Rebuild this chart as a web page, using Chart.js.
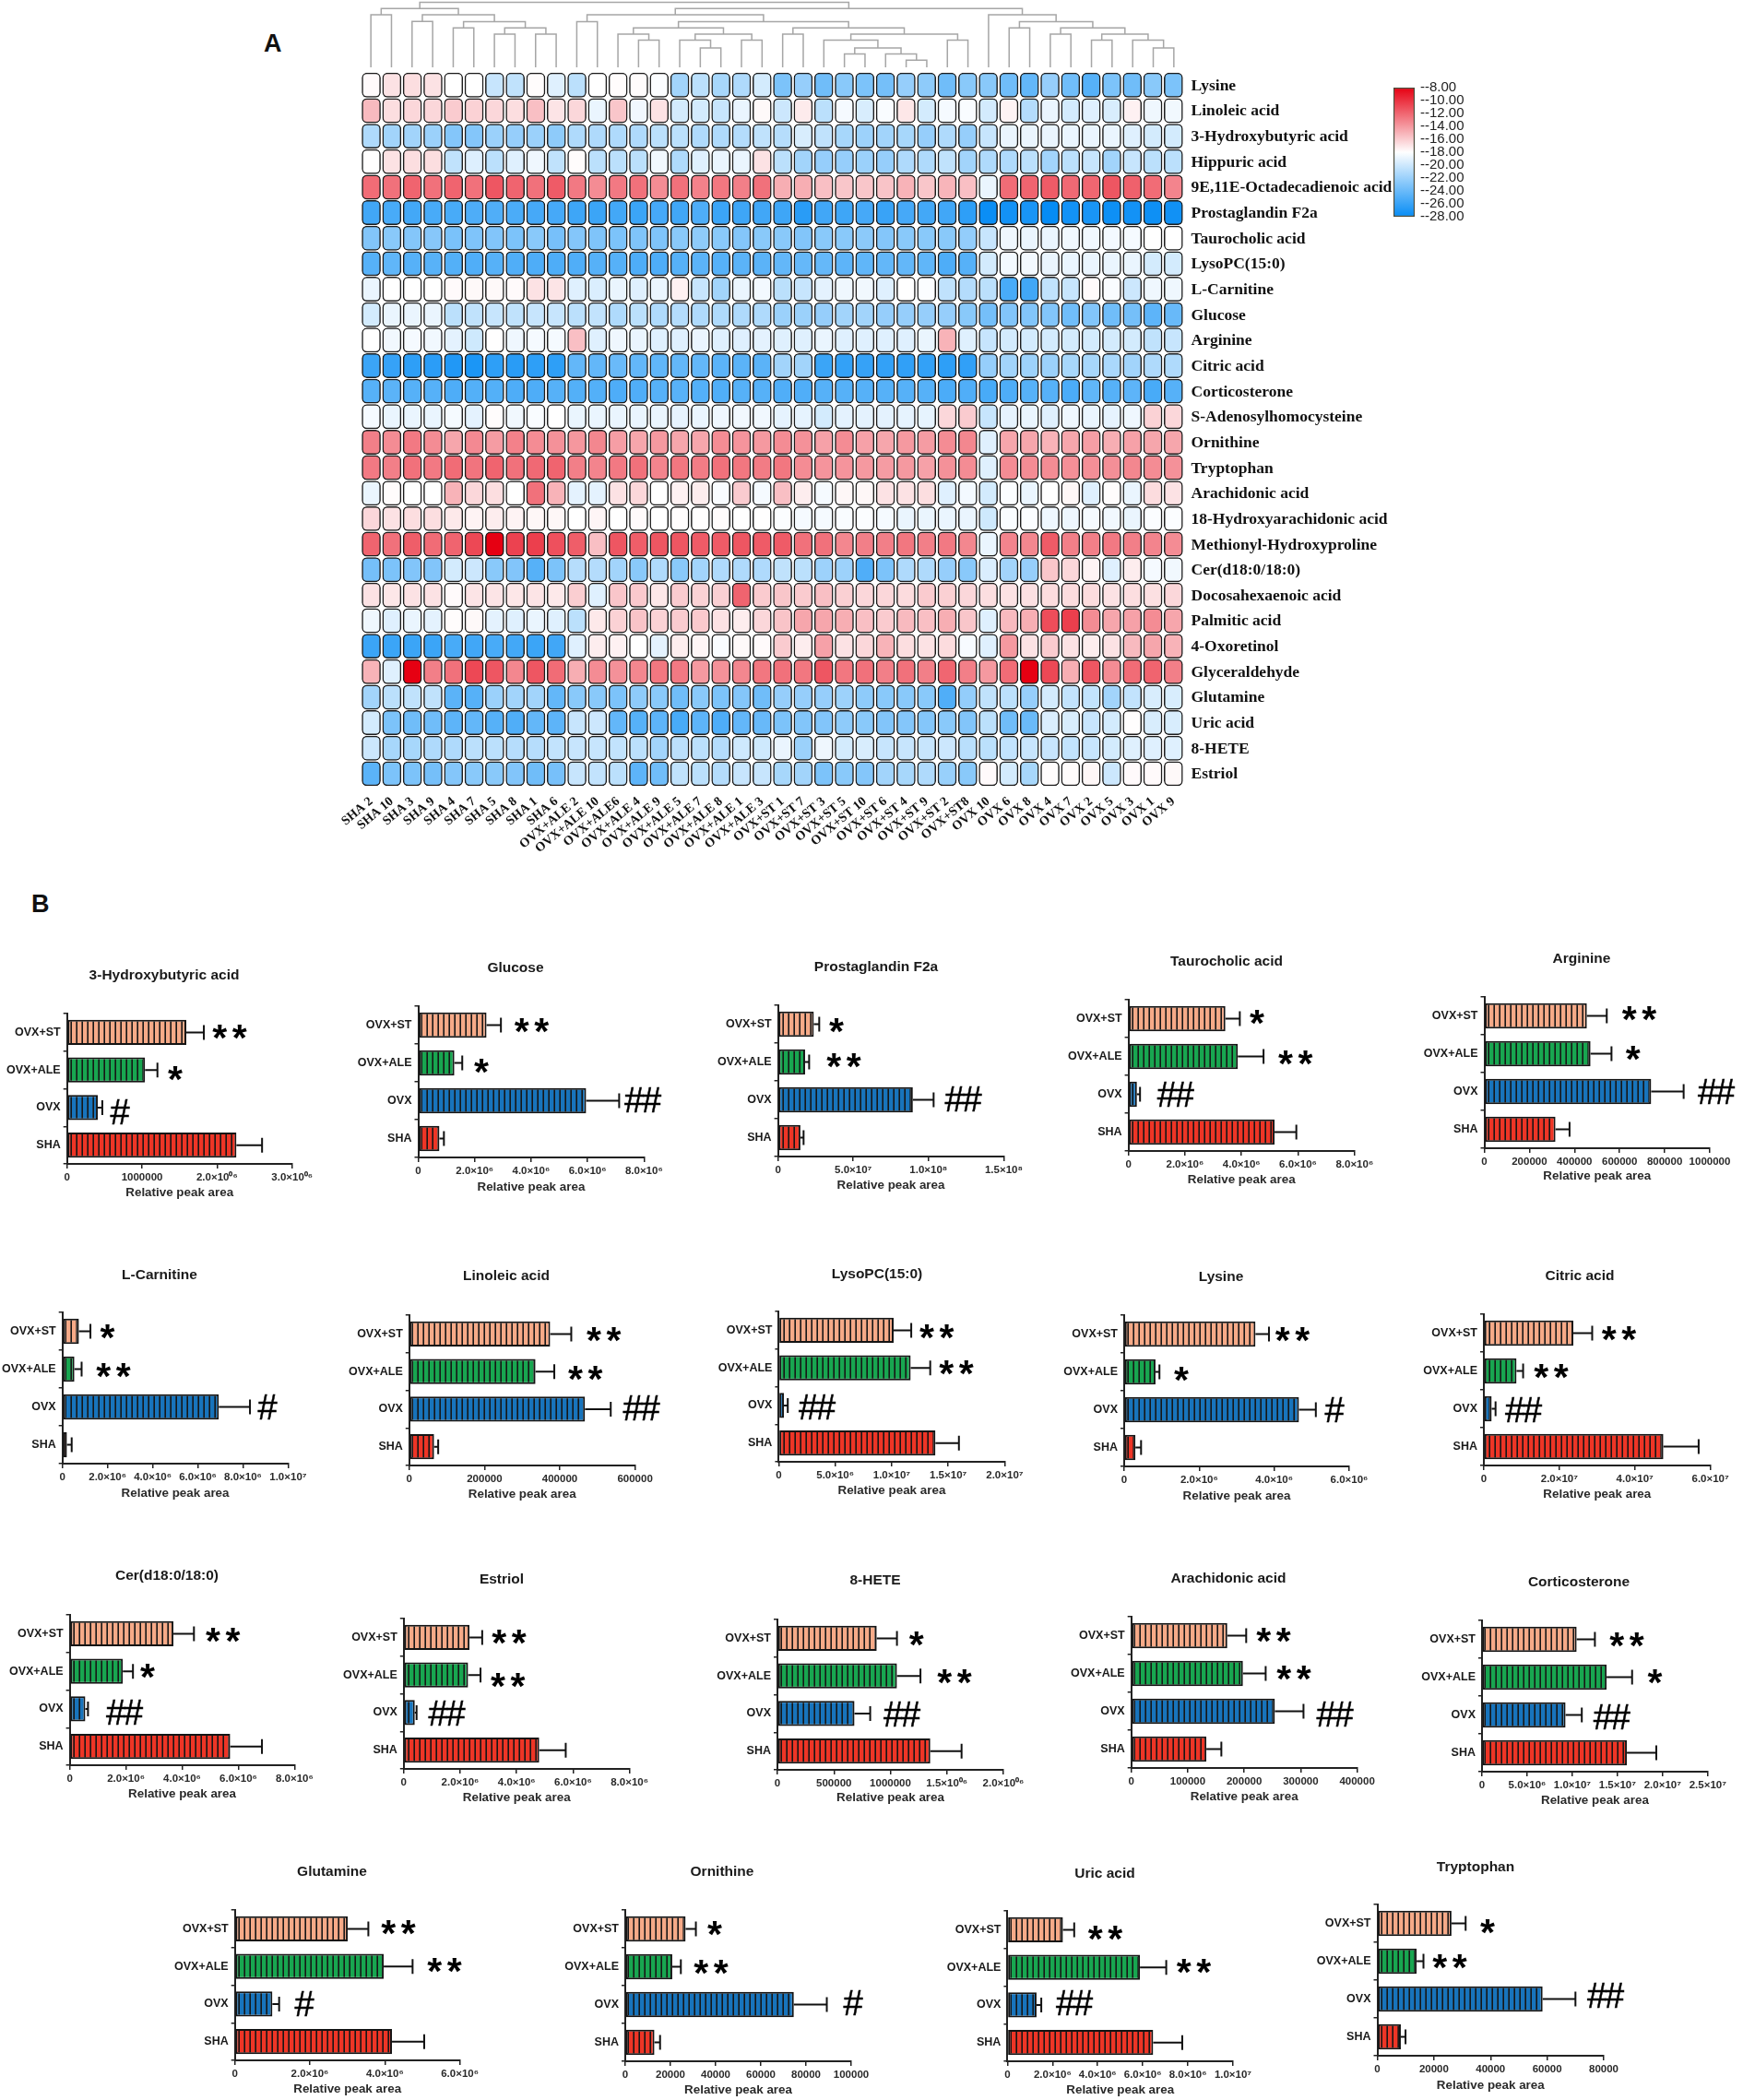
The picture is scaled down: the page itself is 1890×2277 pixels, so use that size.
<!DOCTYPE html>
<html>
<head>
<meta charset="utf-8">
<script src="https://cdn.jsdelivr.net/npm/chart.js@4"></script>
<style>
  html, body { margin: 0; background: #fff; }
  #page { position: relative; width: 1890px; height: 2277px; overflow: hidden; background: #fff; }
  #page canvas { position: absolute; }
  .tag { position: absolute; font: bold 27px "Liberation Sans"; color: #111; }
</style>
</head>
<body>
<div id="page">
  <div class="tag" style="left:286px;top:32px">A</div>
  <div class="tag" style="left:34px;top:965px">B</div>
</div>
<script>
// ---------- heatmap data ----------
const samples = ["SHA 2","SHA 10","SHA 3","SHA 9","SHA 4","SHA 7","SHA 5","SHA 8","SHA 1","SHA 6",
  "OVX+ALE 2","OVX+ALE 10","OVX+ALE6","OVX+ALE 4","OVX+ALE 9","OVX+ALE 5","OVX+ALE 7","OVX+ALE 8","OVX+ALE 1","OVX+ALE 3",
  "OVX+ST 1","OVX+ST 7","OVX+ST 3","OVX+ST 5","OVX+ST 10","OVX+ST 6","OVX+ST 4","OVX+ST 9","OVX+ST 2","OVX+ST8",
  "OVX 10","OVX 6","OVX 8","OVX 4","OVX 7","OVX 2","OVX 5","OVX 3","OVX 1","OVX 9"];
const metabolites = ["Lysine","Linoleic acid","3-Hydroxybutyric acid","Hippuric acid","9E,11E-Octadecadienoic acid",
  "Prostaglandin F2a","Taurocholic acid","LysoPC(15:0)","L-Carnitine","Glucose","Arginine","Citric acid","Corticosterone",
  "S-Adenosylhomocysteine","Ornithine","Tryptophan","Arachidonic acid","18-Hydroxyarachidonic acid","Methionyl-Hydroxyproline",
  "Cer(d18:0/18:0)","Docosahexaenoic acid","Palmitic acid","4-Oxoretinol","Glyceraldehyde","Glutamine","Uric acid","8-HETE","Estriol"];
const heatRows = [
 [-17.7,-16.5,-16.3,-16.5,-18,-18,-20.5,-20.8,-17.8,-19.5,-21,-18,-17.8,-17.8,-18.2,-22,-21,-21.8,-21.5,-20,-23.5,-22.5,-24,-23,-23.5,-23.8,-22.5,-22.8,-24,-23,-23,-24,-24.5,-22.5,-24,-25,-23.5,-24,-23,-23.5],
 [-14.8,-16.3,-16,-16,-15.5,-15.8,-16,-16.3,-15,-16.6,-16,-19,-15.3,-18.7,-16.5,-20,-20,-20.5,-19,-17.6,-20.3,-16.9,-21,-18.5,-19.8,-18.3,-16.7,-20,-18.5,-18.3,-20,-17.3,-21.3,-19,-20,-19.5,-19.8,-17.2,-18.8,-18.7],
 [-21.5,-22,-22,-22.3,-23.2,-23.2,-22.3,-22.5,-22.3,-22.8,-21.5,-21.5,-21.5,-21.5,-21,-21,-21.5,-21.5,-21.3,-20.8,-21.2,-19.8,-20.8,-21.8,-22.2,-22,-21.8,-22.5,-21.5,-22.5,-20.5,-19,-19,-19,-19,-19,-19,-19.5,-20,-20],
 [-17.9,-16.5,-16.3,-16.3,-20.8,-19.6,-21,-19.5,-18.8,-20.8,-17.8,-21,-21,-21,-18.7,-21.5,-19.5,-19,-19,-16.5,-21,-22,-22.5,-22.5,-22.3,-22.5,-21.5,-21.5,-20.8,-22,-21.5,-21.5,-21,-22,-21,-20.5,-22,-20.5,-21,-21],
 [-11.8,-12,-11.5,-12,-11.5,-12,-11,-11.5,-12,-11.2,-12.3,-13,-12.3,-12,-13,-12,-12.6,-12.2,-12.5,-12,-14.3,-14.3,-15,-15.3,-15.3,-15.2,-14.5,-15.3,-14.6,-15,-19,-11.8,-11.5,-11.2,-11.7,-11.6,-11,-11.4,-11.8,-12.7],
 [-25.8,-25.5,-25.7,-25.5,-25.5,-25.3,-25.2,-25.4,-25.6,-25.6,-25.9,-26,-25.7,-26,-25.6,-25.8,-25.3,-26,-25.9,-25.8,-25.9,-26.7,-25.8,-25.9,-25.6,-26.1,-25.6,-25.7,-25.8,-26.5,-27.8,-27.5,-27.3,-28,-27.5,-27.3,-27.7,-27.5,-27.7,-27.6],
 [-23.3,-23,-23.2,-23.1,-23.6,-23.4,-23.3,-23.5,-23,-23.7,-23.2,-23.4,-23.5,-23.4,-23.4,-23,-22.8,-23,-23.2,-23,-23,-23.3,-23,-23,-22.9,-23.2,-23,-23,-23,-22.6,-20.5,-18.8,-19,-19,-18.7,-18.7,-18.6,-18.5,-18,-18],
 [-25,-24.6,-25,-24.9,-25.1,-25.2,-25,-25.2,-25.3,-25.3,-25.2,-25,-25,-25.3,-25.3,-25,-24.8,-25,-24.8,-24.8,-24.5,-24.4,-24.4,-24.7,-24.6,-24.5,-24.5,-24.6,-25.3,-25,-20,-18.6,-18.6,-19,-19,-19,-19,-19,-20,-20],
 [-19,-18,-18,-18,-17.7,-17.6,-17.6,-17.7,-16.5,-16.6,-19.5,-19.7,-19,-19.5,-19,-17.2,-20.5,-22,-19,-18.6,-21,-20.5,-19.3,-18.8,-18.7,-19.5,-18,-18.2,-20.8,-21.3,-21,-25.5,-25.8,-20.8,-20.5,-17.7,-18.3,-20.3,-18.8,-18.8],
 [-20,-19,-19,-19,-21,-20.8,-20.5,-20.8,-20.5,-20.5,-21,-20.7,-21.5,-21,-21.5,-21.3,-21.5,-21.5,-21.5,-21.5,-22.3,-22.3,-22.5,-22,-22,-22.5,-22.5,-22.5,-22.5,-23,-23.8,-23.3,-23.3,-23.3,-24,-23.3,-24,-23.8,-24.7,-24.3],
 [-18,-18.7,-18.5,-18.7,-19.3,-20.2,-17.9,-18.8,-18.5,-18.5,-15,-19.5,-18.8,-19,-19.5,-19.5,-19,-19.5,-19.5,-19.3,-19.5,-19.5,-19,-19.5,-19.5,-19.5,-19.5,-19,-14.5,-19.5,-20.5,-20,-20,-20,-20,-20,-20,-20,-20.8,-20.5],
 [-26,-26.2,-26.5,-26.6,-27,-27.2,-26.5,-26.7,-26.5,-26.5,-24.5,-24.5,-24.2,-24.5,-24.6,-24.5,-24.5,-24.8,-24.8,-24.8,-22,-22,-26,-26.3,-26.2,-26.3,-26.4,-26.3,-26.5,-26.4,-22.5,-22,-22.2,-22.3,-21.8,-21.8,-21.7,-22,-21.5,-21.5],
 [-25,-24.8,-25,-25,-25.3,-25.1,-25.1,-25.3,-25.3,-25,-25.1,-25.1,-25.3,-25.2,-25,-24.9,-25.1,-25.2,-25,-25,-25.2,-25.2,-25,-25,-25,-25,-25,-25,-25.4,-25.2,-25.5,-25.3,-25,-25,-25.4,-24.6,-25,-24.7,-25.5,-25],
 [-18.5,-19,-19,-19,-18.5,-19.3,-17.8,-18.7,-18.3,-18,-19,-19,-19,-19,-19,-19.2,-19,-18.8,-18.7,-18.7,-19.2,-19.2,-20,-19.3,-19.3,-19.3,-19.2,-19.2,-16,-15.5,-20.5,-19.2,-19,-19.5,-18.8,-19,-19.2,-18.8,-15.8,-16],
 [-12.5,-13,-12.3,-13,-14,-12.9,-13.6,-12.6,-13,-13.2,-13.4,-12.8,-13.7,-14,-13.5,-14,-14,-13,-13.3,-13.5,-13,-13.2,-13.8,-13,-13.8,-14,-13.5,-13.6,-13,-12.8,-19.5,-14,-14,-14.5,-14,-13.7,-14.3,-13.8,-14,-14],
 [-12.3,-12.5,-12,-12.3,-11.8,-12.1,-11.5,-12,-11.7,-11.5,-12.5,-12.7,-12.3,-12,-12.7,-12.2,-12.4,-12,-12.2,-12.4,-12.2,-13,-13.3,-13.3,-13.5,-13.6,-13.5,-13.8,-13.2,-13,-19.5,-13,-13,-13,-13.1,-13.1,-13.1,-12.8,-13,-13.2],
 [-19,-17.8,-18,-18,-14.5,-16,-16.3,-18,-12,-14.5,-19.3,-19.3,-16.5,-16,-18,-17.2,-17,-18.3,-15.5,-18.5,-15,-17,-18.5,-17.5,-17.5,-16.5,-16.5,-16.3,-19.5,-18.6,-20,-18.2,-19,-18,-17.5,-19.5,-17.8,-19,-16.2,-16.5],
 [-16,-16.5,-16.3,-16.3,-16.8,-17.3,-17,-17.3,-17.5,-17.5,-18,-17.4,-18,-17.7,-18,-17.8,-17.9,-17.8,-18,-17.9,-18.2,-18.5,-18.5,-18.3,-18.2,-18.5,-19,-19,-19,-19,-20.2,-18.3,-18.2,-18.8,-18.9,-18.5,-18.7,-19,-18.2,-18.2],
 [-11.5,-12,-11.3,-11.8,-11.5,-10.5,-8,-10.3,-10.2,-10.8,-11.3,-15,-11,-11.3,-11,-11,-11.2,-11.2,-11,-11.2,-11.2,-12,-12,-12.8,-12.5,-12.5,-12.2,-12.5,-12.3,-12.8,-19,-12.7,-12.8,-11.2,-12.5,-12.5,-12.3,-12.5,-12.7,-13],
 [-23.8,-23.5,-23.3,-23.3,-20,-20.3,-23,-23.3,-25,-23.5,-21.2,-21.3,-22,-23,-21.5,-23,-22,-21.5,-21.5,-21.5,-20.8,-21,-22.2,-22.2,-25.2,-23.5,-21.5,-21.5,-22.5,-23,-19.7,-22,-22.5,-15.3,-16,-17.3,-19.5,-17,-18.5,-18.7],
 [-16.5,-16.7,-16.5,-16.5,-17.7,-16.6,-16.6,-16.7,-16.6,-16.8,-15.6,-19.5,-15.3,-15.4,-16.7,-15.5,-15.8,-15.7,-11.5,-15.5,-15.3,-15.5,-15,-15.7,-16,-16,-16.2,-15.5,-15.7,-16,-16.3,-16.5,-16.4,-16.2,-16.2,-16.2,-16.5,-16.3,-16.4,-16],
 [-18.8,-19.5,-19,-19.3,-17.8,-17.6,-19.3,-19.5,-19,-19.5,-21,-16.8,-15.8,-15.2,-15.8,-15.5,-15.4,-16.5,-17,-16,-15.2,-14,-14,-14.3,-15,-15.5,-14.8,-15,-14.3,-15.3,-19.5,-14.8,-14.3,-10.7,-10.2,-13,-14,-13.8,-13,-14],
 [-26,-26,-26,-26,-25.5,-25.8,-25.5,-25.7,-26,-25.8,-19.5,-17,-17.2,-18,-19.3,-17,-17.4,-18.3,-17.6,-17.7,-15.5,-17,-13.8,-16.5,-16,-14.5,-16.3,-16.5,-16.2,-18.4,-19.5,-13.5,-16.5,-15.5,-16.5,-17,-16.5,-14.8,-14,-14.5],
 [-14.5,-19.5,-8,-12.5,-12,-10.5,-11,-12.8,-11,-11.8,-14.3,-13,-13.2,-12.8,-12.2,-12.3,-13.5,-13.2,-12.8,-12.2,-12,-12.2,-11,-12.2,-12,-12.5,-12,-12.5,-11.6,-12.5,-13.5,-11.8,-8,-10.5,-14.3,-11,-13,-11.8,-11.5,-12.5],
 [-22,-21,-20.8,-20.8,-24.8,-25,-22.3,-22,-22,-24.5,-23,-23,-23.5,-22.8,-23,-24,-23,-23.5,-23.2,-24,-22.5,-22.5,-22.5,-22.2,-22.8,-23,-23,-23,-25.2,-22.6,-20.8,-21,-22.5,-20,-20.7,-20.7,-22,-20.7,-19.8,-19.8],
 [-20,-23.5,-24,-24,-24.7,-24.5,-25,-25.2,-24.5,-24.7,-20.5,-20.3,-24.5,-25,-24.7,-25.5,-24.7,-25.3,-24.5,-24.3,-23.5,-23.3,-23.3,-22.8,-23,-23.3,-23.2,-23.2,-23,-23.3,-21,-24,-24.2,-19.7,-19.8,-20.5,-20,-17.9,-19.8,-19.8],
 [-20.3,-21.8,-21.8,-21.5,-21.5,-21,-21,-21.2,-21.2,-20.7,-20.5,-20.5,-20.7,-21,-22,-21,-21,-21.3,-20.2,-20.2,-19,-22.3,-18.8,-20,-19.8,-20.5,-20.5,-20.5,-20.3,-21.1,-21,-20.7,-20.5,-20.5,-20.7,-20.5,-20,-19.5,-19.5,-19.5],
 [-24.8,-23.5,-23.5,-23.8,-23.2,-23,-23,-23.3,-24,-23.7,-20.5,-20.7,-21,-24.7,-24,-20.8,-21,-21.3,-20.5,-20.5,-21.8,-22,-23.5,-23,-23.2,-22,-21.8,-21.5,-22.4,-23,-17.7,-20,-21.8,-17.8,-17.8,-17.5,-20.3,-17.7,-17.7,-17.6]
];
const legendTicks = [-8,-10,-12,-14,-16,-18,-20,-22,-24,-26,-28];

// dendrogram merges: [child, child, height]; 0-39 are samples, 100+k is merge k
const dendroMerges = [
 [0,1,57],[2,3,49.7],[4,5,42.7],[6,7,36],[8,9,36],[103,104,42.7],[102,105,49.4],[101,106,57],[100,107,63.7],
 [10,11,49.4],[13,14,29.4],[12,110,36],[16,17,21],[15,112,29.4],[18,19,29.4],[113,114,36],[111,115,42.7],
 [20,21,36],[23,24,14.4],[26,27,7.7],[25,119,14.4],[118,120,21],[22,121,29.4],[28,29,29.4],[122,123,36],
 [117,124,42.7],[116,125,49.4],[109,126,57],
 [31,32,42.7],[33,34,36],[35,36,29.4],[38,39,21],[37,131,29.4],[130,132,36],[129,133,42.7],[128,134,49.4],[30,135,57],
 [127,136,63.7],[108,137,70.4]
];

// ---------- bar panel data ----------
const groups = ["OVX+ST","OVX+ALE","OVX","SHA"];
const panelTitles = ["3-Hydroxybutyric acid","Glucose","Prostaglandin F2a","Taurocholic acid","Arginine",
  "L-Carnitine","Linoleic acid","LysoPC(15:0)","Lysine","Citric acid",
  "Cer(d18:0/18:0)","Estriol","8-HETE","Arachidonic acid","Corticosterone",
  "Glutamine","Ornithine","Uric acid","Tryptophan"];
const panelMax = [3e6,8e6,1.5e8,8e6,1e6, 1e7,6e5,2e7,6e6,6e7, 8e6,8e6,2e6,4e5,2.5e7, 6e6,1e5,1e7,8e4];
const e6x4 = ["0","2.0×10⁶","4.0×10⁶","6.0×10⁶","8.0×10⁶"];
const panelTicks = [
  ["0","1000000","2.0×10⁰⁶","3.0×10⁰⁶"], e6x4, ["0","5.0×10⁷","1.0×10⁸","1.5×10⁸"], e6x4,
  ["0","200000","400000","600000","800000","1000000"],
  ["0","2.0×10⁶","4.0×10⁶","6.0×10⁶","8.0×10⁶","1.0×10⁷"], ["0","200000","400000","600000"],
  ["0","5.0×10⁶","1.0×10⁷","1.5×10⁷","2.0×10⁷"], ["0","2.0×10⁶","4.0×10⁶","6.0×10⁶"], ["0","2.0×10⁷","4.0×10⁷","6.0×10⁷"],
  e6x4, e6x4, ["0","500000","1000000","1.5×10⁰⁶","2.0×10⁰⁶"], ["0","100000","200000","300000","400000"],
  ["0","5.0×10⁶","1.0×10⁷","1.5×10⁷","2.0×10⁷","2.5×10⁷"],
  ["0","2.0×10⁶","4.0×10⁶","6.0×10⁶"], ["0","20000","40000","60000","80000","100000"],
  ["0","2.0×10⁶","4.0×10⁶","6.0×10⁶","8.0×10⁶","1.0×10⁷"], ["0","20000","40000","60000","80000"]
];
const panelMeans = [
  [1.59e6,1.04e6,.41e6,2.258e6],[2.42e6,1.28e6,5.95e6,.75e6],[2.38e7,1.8e7,8.96e7,1.49e7],[3.43e6,3.87e6,.3e6,5.17e6],[454800,471000,740000,315500],
  [.73e6,.53e6,6.93e6,.2e6],[374400,335400,467000,65900],[1.017e7,1.168e7,.046e7,1.387e7],[3.5e6,.835e6,4.66e6,.3e6],[2.37e7,.865e7,.207e7,4.755e7],
  [3.69e6,1.89e6,.555e6,5.71e6],[2.33e6,2.28e6,.39e6,4.8e6],[879000,1058000,682000,1353000],[170000,197700,254300,133000],[1.048e7,1.38e7,.925e7,1.604e7],
  [3.01e6,3.97e6,1e6,4.19e6],[26700,20800,74600,12900],[2.46e6,5.875e6,1.29e6,6.46e6],[26200,13900,58400,8300]
];
const panelTips = [
  [1.824e6,1.205e6,.47e6,2.6e6],[2.93e6,1.56e6,7.12e6,.91e6],[2.74e7,2.07e7,1.034e8,1.7e7],[3.94e6,4.78e6,.41e6,5.94e6],[543000,564000,884000,378000],
  [1.24e6,.85e6,8.31e6,.41e6],[430500,385400,535400,76800],[1.173e7,1.341e7,.08e7,1.595e7],[3.86e6,.94e6,5.11e6,.45e6],[2.87e7,1.04e7,.31e7,5.69e7],
  [4.42e6,2.25e6,.65e6,6.84e6],[2.78e6,2.72e6,.455e6,5.74e6],[1058000,1266000,821000,1630000],[203500,238000,305000,159500],[1.25e7,1.662e7,1.105e7,1.93e7],
  [3.56e6,4.74e6,1.18e6,5.05e6],[31250,24600,89200,15400],[2.96e6,7.04e6,1.5e6,7.75e6],[31200,16300,70000,9960]
];
const panelMarks = [
  ["**","*","#"],["**","*","##"],["*","**","##"],["*","**","##"],["**","*","##"],
  ["*","**","#"],["**","**","##"],["**","**","##"],["**","*","#"],["**","**","##"],
  ["**","*","##"],["**","**","##"],["*","**","##"],["**","**","##"],["**","*","##"],
  ["**","**","#"],["*","**","#"],["**","**","##"],["*","**","##"]
];

// ---------- layout (page pixels) ----------
// axis x0, axis x1, axis top, axis bottom, title x, title y, x label y
const panelBoxes = [
  [72.7,316.7,1099,1262,178,1057,1293],[453.5,698.3,1091,1255,559,1049,1287],[843.6,1088.4,1090,1254,949.6,1048,1285],[1223.6,1468.8,1084,1248,1329.7,1042,1279],[1609.5,1854,1081,1245,1715,1039,1275],
  [67.7,312.4,1423,1587,173,1382,1619],[443.8,688.6,1426,1589,549,1383,1620],[844.4,1089.4,1422,1585,950.6,1381,1616],[1219,1463,1426,1590,1324.4,1384,1622],[1609,1854.6,1425,1589,1713,1383,1620],
  [75.6,319.4,1751,1914,181,1708,1945],[437.8,682.6,1755,1918,543.8,1712,1949],[843,1088,1756,1919,948.5,1713,1949],[1226.7,1471.6,1753,1917,1332,1711,1948],[1607,1851.8,1757,1921,1712,1715,1952],
  [254.7,498.6,2071,2234,359.8,2029,2265],[678,923,2071,2235,783,2029,2266],[1092.4,1337,2072,2235,1197.6,2031,2266],[1493.5,1739,2065,2229,1599.6,2024,2261]
];
// centre of each symbol group: ST x,y, ALE x,y, OVX x,y
const markSpots = [
  [249,1119,190,1164,130,1205],[576.4,1112,522,1156,697,1192],[907,1112,915,1150,1044.6,1191],[1363,1103,1404.7,1147,1274.7,1186],[1777.5,1099,1770.7,1142,1861,1183],
  [116.4,1444,123,1486,290,1525],[654.7,1447,634.8,1489,695.5,1526],[1015.7,1444,1037,1483,886,1525],[1401.6,1447,1281,1490,1447,1528],[1755.5,1446,1682,1487,1652,1528],
  [241.8,1773,160,1812,135,1856],[552,1775,550.7,1822,484.6,1857],[993.8,1777,1035,1818,978,1858],[1381,1773,1403,1814,1447.6,1858],[1764,1778,1794.4,1818,1747.7,1861],
  [432,2090,482,2131,330,2172],[775,2091,771,2133,925,2171],[1198.6,2096,1294.5,2132,1165,2171],[1613,2089,1572,2127,1741,2163]
];
const barColors = ["#f6aa88","#18a650","#1874bc","#ee3526"];

Chart.defaults.animation = false;
Chart.defaults.responsive = false;
Chart.defaults.devicePixelRatio = 1;
Chart.defaults.plugins.legend.display = false;
Chart.defaults.plugins.tooltip.enabled = false;

const page = document.getElementById("page");
function addCanvas(left, top, width, height){
  var c = document.createElement("canvas");
  c.width = width; c.height = height;
  c.style.left = left + "px"; c.style.top = top + "px";
  page.appendChild(c);
  return c;
}

// -18 is white, red above it, blue below it
function heatColor(v){
  var hot = [230,0,18], cold = [6,140,245], end = v > -18 ? hot : cold;
  var f = Math.pow(Math.min(1, Math.abs(v + 18) / 10), v > -18 ? 1.15 : 1.08);
  return "rgb(" + end.map(c => Math.round(255 + (c - 255) * f)).join(",") + ")";
}

// ---------- dendrogram ----------
var nodeX = {}, nodeY = {}, linkSets = [];
for(var i = 0; i < 40; i++){ nodeX[i] = i; nodeY[i] = 0; }
dendroMerges.forEach(function(m, k){
  var a = m[0], b = m[1], h = m[2];
  linkSets.push({
    data: [{x:nodeX[a],y:nodeY[a]},{x:nodeX[a],y:h},{x:nodeX[b],y:h},{x:nodeX[b],y:nodeY[b]}],
    showLine: true, borderColor: "#a6a6a6", borderWidth: 1.5, pointRadius: 0, tension: 0
  });
  nodeX[100 + k] = (nodeX[a] + nodeX[b]) / 2;
  nodeY[100 + k] = h;
});
new Chart(addCanvas(391, 0, 893, 73), {
  type: "scatter",
  data: { datasets: linkSets },
  options: {
    layout: { autoPadding: false, padding: 0 },
    scales: {
      x: { type: "linear", min: -0.5, max: 39.5, display: false },
      y: { type: "linear", min: 0, max: 73, display: false }
    }
  }
});

// ---------- heatmap, floating bars, one dataset per row ----------
var heatSets = heatRows.map(function(row, r){
  return {
    data: row.map(() => [r + 0.025, r + 0.975]),
    backgroundColor: row.map(heatColor),
    borderColor: "#1c1c1c", borderWidth: 1.5, borderRadius: 5.5, borderSkipped: false,
    grouped: false, barThickness: 20
  };
});
new Chart(addCanvas(340, 60, 1180, 880), {
  type: "bar",
  data: { labels: samples, datasets: heatSets },
  options: {
    layout: { autoPadding: false, padding: { left: 51.4, top: 12.7, right: 0, bottom: 0 } },
    scales: {
      x: {
        type: "category", offset: true, afterFit: s => { s.height = 87.3; },
        grid: { display: false, drawTicks: false }, border: { display: false },
        ticks: { autoSkip: false, minRotation: 40, maxRotation: 40, padding: 8, color: "#111",
          font: { family: "Liberation Serif", weight: "bold", size: 14 } }
      },
      y: {
        type: "linear", position: "right", reverse: true, min: 0, max: 28,
        afterFit: s => { s.width = 236.5; },
        afterBuildTicks: s => { s.ticks = metabolites.map((m, i) => ({ value: i + 0.5 })); },
        grid: { display: false, drawTicks: false }, border: { display: false },
        ticks: { autoSkip: false, padding: 8, labelOffset: 1, color: "#111",
          font: { family: "Liberation Serif", weight: "bold", size: 17.5 },
          callback: (v, i) => metabolites[i] }
      }
    }
  }
});

// ---------- colour key ----------
new Chart(addCanvas(1505, 80, 100, 170), {
  type: "bar",
  data: { labels: ["key"], datasets: [{
    data: [[-28,-8]],
    backgroundColor: function(ctx){
      var area = ctx.chart.chartArea;
      if(!area) return "#fff";
      var g = ctx.chart.ctx.createLinearGradient(0, area.top, 0, area.bottom);
      g.addColorStop(0, heatColor(-8)); g.addColorStop(0.5, heatColor(-18)); g.addColorStop(1, heatColor(-28));
      return g;
    },
    borderColor: "#4a4a3a", borderWidth: 1.5, borderSkipped: false,
    barPercentage: 1, categoryPercentage: 1
  }] },
  options: {
    layout: { autoPadding: false, padding: { left: 6, top: 11.7, bottom: 13.3 } },
    scales: {
      x: { display: false },
      y: {
        type: "linear", position: "right", min: -28, max: -8,
        afterFit: s => { s.width = 71; },
        afterBuildTicks: s => { s.ticks = legendTicks.map(v => ({ value: v })); },
        grid: { display: false, drawTicks: false }, border: { display: false },
        ticks: { autoSkip: false, padding: 6, color: "#222", font: { family: "Liberation Sans", size: 15 },
          callback: v => "-" + v.toFixed(2) }
      }
    }
  }
});

// ---------- bar panels ----------
function stripes(color){
  var c = document.createElement("canvas");
  c.width = 6; c.height = 6;
  var g = c.getContext("2d");
  g.fillStyle = color; g.fillRect(0, 0, 6, 6);
  g.fillStyle = "#161616"; g.fillRect(4.4, 0, 1.6, 6);
  return g.createPattern(c, "repeat");
}
var barFills = barColors.map(stripes);

var whiskers = {
  id: "whiskers",
  afterDatasetsDraw: function(chart, args, opts){
    var x = chart.scales.x, y = chart.scales.y, g = chart.ctx;
    g.save();
    g.strokeStyle = "#111"; g.lineWidth = 2;
    opts.tips.forEach(function(tip, i){
      var px = x.getPixelForValue(tip), py = y.getPixelForValue(i), from = x.getPixelForValue(opts.means[i]);
      g.beginPath();
      g.moveTo(from, py); g.lineTo(px, py);
      g.moveTo(px, py - 8); g.lineTo(px, py + 8);
      g.stroke();
    });
    g.restore();
  }
};
var symbols = {
  id: "symbols",
  afterDraw: function(chart, args, opts){
    var g = chart.ctx;
    g.save();
    g.fillStyle = "#000"; g.strokeStyle = "#000";
    g.textAlign = "left"; g.textBaseline = "alphabetic";
    opts.marks.forEach(function(text, i){
      var star = text[0] == "*";
      var step = star ? 21.5 : 19;
      g.font = star ? 'bold 41px "Liberation Sans"' : '38px "Liberation Sans"';
      var cx = opts.spots[i * 2] - opts.left, cy = opts.spots[i * 2 + 1] - opts.top;
      for(var n = 0; n < text.length; n++){
        var m = g.measureText(text[n]);
        var gx = cx + (n - (text.length - 1) / 2) * step;
        var tx = gx - (m.actualBoundingBoxRight - m.actualBoundingBoxLeft) / 2;
        var ty = cy + (m.actualBoundingBoxAscent - m.actualBoundingBoxDescent) / 2;
        g.fillText(text[n], tx, ty);
        if(!star){ g.lineWidth = 0.5; g.strokeText(text[n], tx, ty); }
      }
    });
    g.restore();
  }
};

panelTitles.forEach(function(title, p){
  var box = panelBoxes[p], x0 = box[0], x1 = box[1], top = box[2], bottom = box[3], tx = box[4], ty = box[5], ly = box[6];
  var half = Math.ceil(Math.max(tx - x0 + 66, x1 + 75 - tx));
  var left = Math.round(tx - half), width = half * 2, canvasTop = Math.round(ty - 9);
  var labelHeight = 13.4 * 1.2;
  var axisH = ly - bottom + labelHeight / 2;
  var height = Math.ceil(bottom + axisH - canvasTop);
  var ticks = panelTicks[p];
  new Chart(addCanvas(left, canvasTop, width, height), {
    type: "bar",
    data: { labels: groups, datasets: [{
      data: panelMeans[p], backgroundColor: barFills,
      borderColor: "#141414", borderWidth: 2, borderSkipped: false,
      barPercentage: 0.67, categoryPercentage: 1
    }] },
    options: {
      indexAxis: "y",
      layout: { autoPadding: false, padding: { left: 0, right: 0, top: 0, bottom: height - (bottom - canvasTop) - axisH } },
      plugins: {
        title: { display: true, text: title, color: "#1a1a1a", fullSize: true,
          font: { family: "Liberation Sans", weight: "bold", size: 15.5, lineHeight: 1.2 },
          padding: { top: 0, bottom: top - canvasTop - 18.6 } },
        whiskers: { means: panelMeans[p], tips: panelTips[p] },
        symbols: { marks: panelMarks[p], spots: markSpots[p], left: left, top: canvasTop }
      },
      scales: {
        x: {
          type: "linear", min: 0, max: panelMax[p],
          afterFit: s => { s.height = axisH; },
          afterBuildTicks: s => { s.ticks = ticks.map((t, i) => ({ value: panelMax[p] * i / (ticks.length - 1) })); },
          grid: { drawOnChartArea: false, color: "#222", tickLength: 5, lineWidth: 1.5 },
          border: { color: "#222", width: 2 },
          ticks: { autoSkip: false, maxRotation: 0, minRotation: 0, padding: 3, color: "#2a2a2a",
            font: { family: "Liberation Sans", weight: "bold", size: 11.5 },
            callback: (v, i) => ticks[i] },
          title: { display: true, text: "Relative peak area", color: "#2a2a2a", padding: 0,
            font: { family: "Liberation Sans", weight: "bold", size: 13.4 } }
        },
        y: {
          type: "category", afterFit: s => { s.width = x0 - left; },
          grid: { drawOnChartArea: false, color: "#222", tickLength: 4, lineWidth: 1.5 },
          border: { color: "#222", width: 2 },
          ticks: { padding: 3, color: "#1a1a1a", font: { family: "Liberation Sans", weight: "bold", size: 12.5 } }
        },
        // blank axis on the right, only there to hold the plot width
        spacer: {
          type: "linear", axis: "y", position: "right", afterFit: s => { s.width = left + width - x1; },
          grid: { display: false, drawTicks: false }, border: { display: false }, ticks: { display: false }
        }
      }
    },
    plugins: [whiskers, symbols]
  });
});
</script>
</body>
</html>
